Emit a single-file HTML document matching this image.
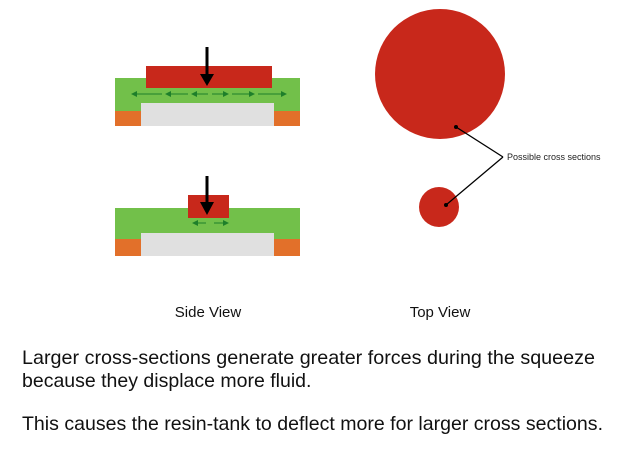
<!DOCTYPE html>
<html><head><style>html,body{margin:0;padding:0;background:#fff;}svg{display:block}</style></head>
<body>
<svg width="620" height="465" viewBox="0 0 620 465" xmlns="http://www.w3.org/2000/svg" font-family="Liberation Sans, sans-serif">
<defs>
<marker id="ga" markerWidth="6" markerHeight="6" refX="5" refY="3" orient="auto" markerUnits="userSpaceOnUse"><path d="M0,0 L6,3 L0,6 z" fill="#1e7f2a"/></marker>
</defs>
<rect x="115" y="78" width="185" height="33" fill="#72c04a"/>
<rect x="115" y="111" width="26" height="15" fill="#e2702a"/>
<rect x="274" y="111" width="26" height="15" fill="#e2702a"/>
<rect x="141" y="103" width="133" height="23" fill="#e0e0e0"/>
<rect x="146" y="66" width="126" height="22" fill="#c8281b"/>
<g stroke="#1e7f2a" stroke-width="1" marker-end="url(#ga)">
<line x1="162" y1="94" x2="132" y2="94"/>
<line x1="188" y1="94" x2="166" y2="94"/>
<line x1="208" y1="94" x2="192" y2="94"/>
<line x1="212" y1="94" x2="228" y2="94"/>
<line x1="232" y1="94" x2="254" y2="94"/>
<line x1="258" y1="94" x2="286" y2="94"/>
</g>
<line x1="207" y1="47" x2="207" y2="76" stroke="#000" stroke-width="3"/>
<path d="M200,74 L214,74 L207,86 z" fill="#000"/>
<rect x="115" y="208" width="185" height="31" fill="#72c04a"/>
<rect x="115" y="239" width="26" height="17" fill="#e2702a"/>
<rect x="274" y="239" width="26" height="17" fill="#e2702a"/>
<rect x="141" y="233" width="133" height="23" fill="#e0e0e0"/>
<rect x="188" y="195" width="41" height="23" fill="#c8281b"/>
<g stroke="#1e7f2a" stroke-width="1" marker-end="url(#ga)">
<line x1="206" y1="223" x2="193" y2="223"/>
<line x1="214" y1="223" x2="228" y2="223"/>
</g>
<line x1="207" y1="176" x2="207" y2="204" stroke="#000" stroke-width="3"/>
<path d="M200,202 L214,202 L207,215 z" fill="#000"/>
<circle cx="440" cy="74" r="65" fill="#c8281b"/>
<circle cx="439" cy="207" r="20" fill="#c8281b"/>
<line x1="456" y1="127" x2="503" y2="157" stroke="#000" stroke-width="1.3"/>
<line x1="446" y1="205" x2="503" y2="157" stroke="#000" stroke-width="1.3"/>
<circle cx="456" cy="127" r="2" fill="#000"/>
<circle cx="446" cy="205" r="2" fill="#000"/>
<text x="507" y="160" font-size="9" fill="#222">Possible cross sections</text>
<text x="208" y="317" font-size="15" text-anchor="middle" fill="#111">Side View</text>
<text x="440" y="317" font-size="15" text-anchor="middle" fill="#111">Top View</text>
<g font-size="19.5" fill="#111">
<text x="22" y="364" textLength="573" lengthAdjust="spacingAndGlyphs">Larger cross-sections generate greater forces during the squeeze</text>
<text x="22" y="387">because they displace more fluid.</text>
<text x="22" y="430" textLength="581" lengthAdjust="spacingAndGlyphs">This causes the resin-tank to deflect more for larger cross sections.</text>
</g>
</svg>
</body></html>
